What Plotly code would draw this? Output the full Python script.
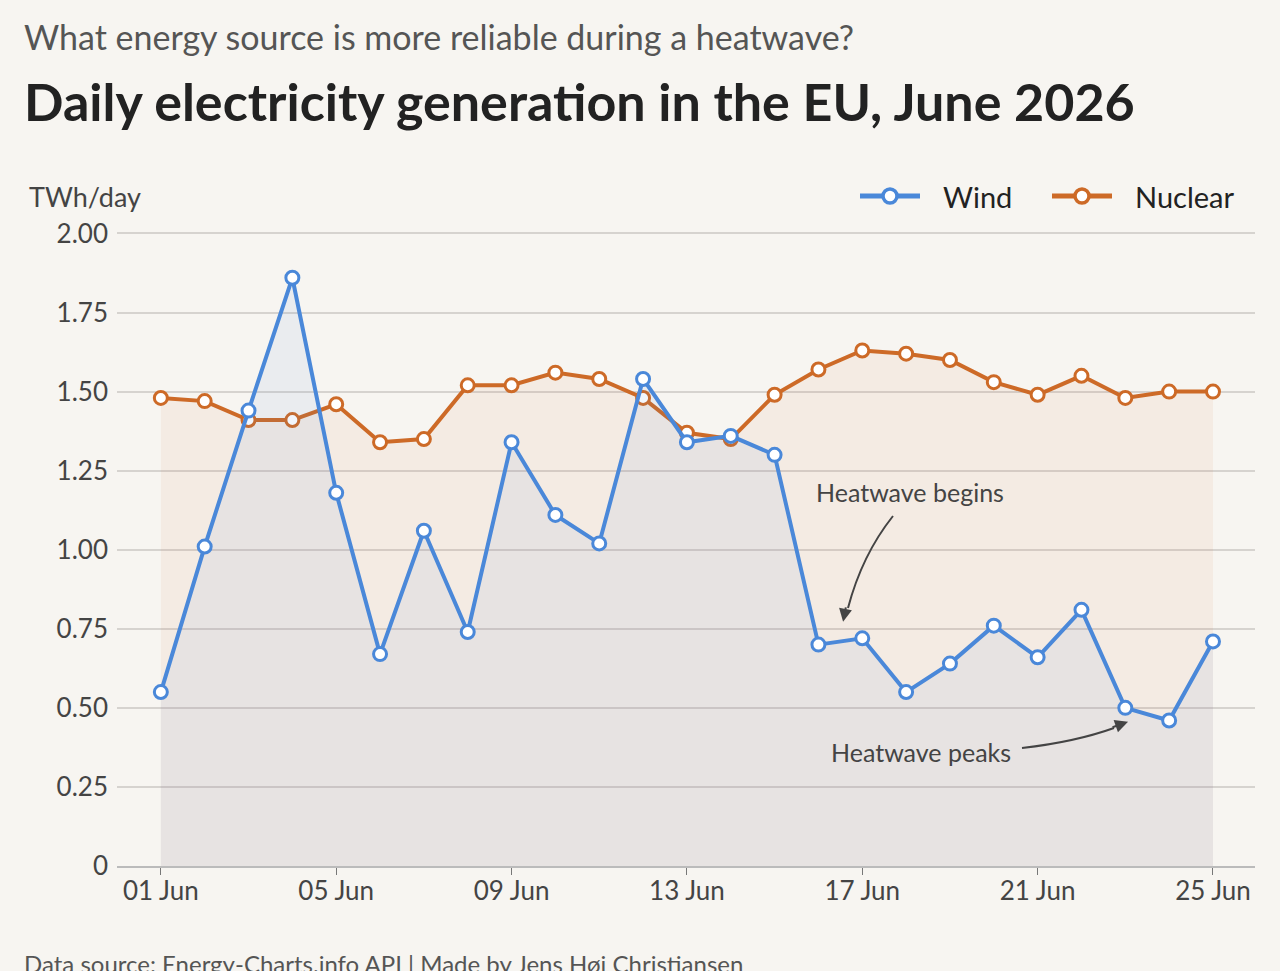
import plotly.graph_objects as go
import pandas as pd

dates = pd.date_range("2026-06-01", "2026-06-25", freq="D")
wind = [0.55, 1.01, 1.44, 1.86, 1.18, 0.67, 1.06, 0.74, 1.34, 1.11, 1.02, 1.54, 1.34,
        1.36, 1.30, 0.70, 0.72, 0.55, 0.64, 0.76, 0.66, 0.81, 0.50, 0.46, 0.71]
nuclear = [1.48, 1.47, 1.41, 1.41, 1.46, 1.34, 1.35, 1.52, 1.52, 1.56, 1.54, 1.48, 1.37,
           1.35, 1.49, 1.57, 1.63, 1.62, 1.60, 1.53, 1.49, 1.55, 1.48, 1.50, 1.50]
ytick_vals = [0, 0.25, 0.5, 0.75, 1.0, 1.25, 1.5, 1.75, 2.0]
ytick_text = ["0", "0.25", "0.50", "0.75", "1.00", "1.25", "1.50", "1.75", "2.00"]

BG = "#f7f5f1"
BLUE = "#4a88d9"
ORANGE = "#cd6a27"
FONT = "Lato"
TXT = "#444"

fig = go.Figure()
fig.add_trace(go.Scatter(
    x=dates, y=nuclear, name="Nuclear", mode="lines+markers",
    line=dict(color=ORANGE, width=4),
    marker=dict(size=13, color="white", line=dict(color=ORANGE, width=3)),
    fill="tozeroy", fillcolor="rgba(205,106,39,0.065)", showlegend=False,
))
fig.add_trace(go.Scatter(
    x=dates, y=wind, name="Wind", mode="lines+markers",
    line=dict(color=BLUE, width=4),
    marker=dict(size=13, color="white", line=dict(color=BLUE, width=3)),
    fill="tozeroy", fillcolor="rgba(74,136,217,0.075)", showlegend=False,
))

L, R, T, B = 117, 25, 224, 105
H = 971 - T - B
W = 1280 - L - R


def px(x):
    return (x - L) / W


def py(y):
    return (971 - B - y) / H


fig.update_layout(
    width=1280, height=971, autosize=False,
    paper_bgcolor=BG, plot_bgcolor=BG,
    margin=dict(l=L, r=R, t=T, b=B),
    font=dict(family=FONT, color=TXT, size=22),
    showlegend=False,
    xaxis=dict(
        range=["2026-05-31", "2026-06-25T23:00"],
        tickformat="%d %b", dtick=4 * 86400000, tick0="2026-06-01",
        ticks="outside", ticklen=7, tickcolor="#777", tickwidth=1,
        showgrid=False, showline=True, linecolor="#bbb", linewidth=1.5,
        zeroline=False, tickfont=dict(size=26, color=TXT), ticklabelstandoff=-6,
    ),
    yaxis=dict(
        range=[0, 2.03], tickvals=ytick_vals, ticktext=ytick_text,
        showgrid=True, gridcolor="#d6d3cf", gridwidth=1.5,
        zeroline=False, showline=False, ticks="", ticklabelstandoff=8,
        tickfont=dict(size=26, color=TXT),
    ),
)

# Titles and axis unit
fig.add_annotation(xref="paper", yref="paper", x=px(22), y=py(37), xanchor="left", yanchor="middle",
                   text="What energy source is more reliable during a heatwave?", showarrow=False,
                   font=dict(size=34, color="#555"))
fig.add_annotation(xref="paper", yref="paper", x=px(22), y=py(101), xanchor="left", yanchor="middle",
                   text="<b>Daily electricity generation in the EU, June 2026</b>", showarrow=False,
                   font=dict(size=52, color="#222"))
fig.add_annotation(xref="paper", yref="paper", x=px(27), y=py(196), xanchor="left", yanchor="middle",
                   text="TWh/day", showarrow=False, font=dict(size=27, color=TXT))
fig.add_annotation(xref="paper", yref="paper", x=px(22), y=py(963), xanchor="left", yanchor="middle",
                   text="Data source: Energy-Charts.info API | Made by Jens Høj Christiansen",
                   showarrow=False, font=dict(size=24, color="#555"))

# Legend (manual, to match spacing)
legend_items = [("Wind", BLUE, 860), ("Nuclear", ORANGE, 1052)]
for name, col, x0 in legend_items:
    fig.add_shape(type="line", xref="paper", yref="paper", x0=px(x0), x1=px(x0 + 60),
                  y0=py(196), y1=py(196), line=dict(color=col, width=5))
    fig.add_shape(type="circle", xref="paper", yref="paper",
                  x0=px(x0 + 23), x1=px(x0 + 37), y0=py(203), y1=py(189),
                  fillcolor="white", line=dict(color=col, width=3.5))
    fig.add_annotation(xref="paper", yref="paper", x=px(x0 + 81), y=py(196), xanchor="left",
                       yanchor="middle", text=name, showarrow=False,
                       font=dict(size=29, color="#222"))

# Heatwave annotations
fig.add_annotation(x="2026-06-18T02:00", y=1.183, text="Heatwave begins", showarrow=False,
                   font=dict(size=25, color=TXT))
fig.add_annotation(x="2026-06-18T08:00", y=0.361, text="Heatwave peaks", showarrow=False,
                   font=dict(size=25, color=TXT))
fig.add_annotation(x="2026-06-16T13:30", y=0.772, ax=3, ay=-16, text="", showarrow=True,
                   arrowhead=2, arrowsize=1.3, arrowwidth=2, arrowcolor=TXT)
fig.add_annotation(x="2026-06-23T01:30", y=0.456, ax=-17, ay=6, text="", showarrow=True,
                   arrowhead=2, arrowsize=1.3, arrowwidth=2, arrowcolor=TXT)

# curved arrow bodies
fig.add_shape(type="path", xref="paper", yref="paper",
              path=f"M {px(893)},{py(516)} Q {px(862)},{py(555)} {px(848)},{py(608)}",
              line=dict(color=TXT, width=2))
fig.add_shape(type="path", xref="paper", yref="paper",
              path=f"M {px(1022)},{py(748)} Q {px(1075)},{py(742)} {px(1114)},{py(728)}",
              line=dict(color=TXT, width=2))

fig.write_html("out.html")
